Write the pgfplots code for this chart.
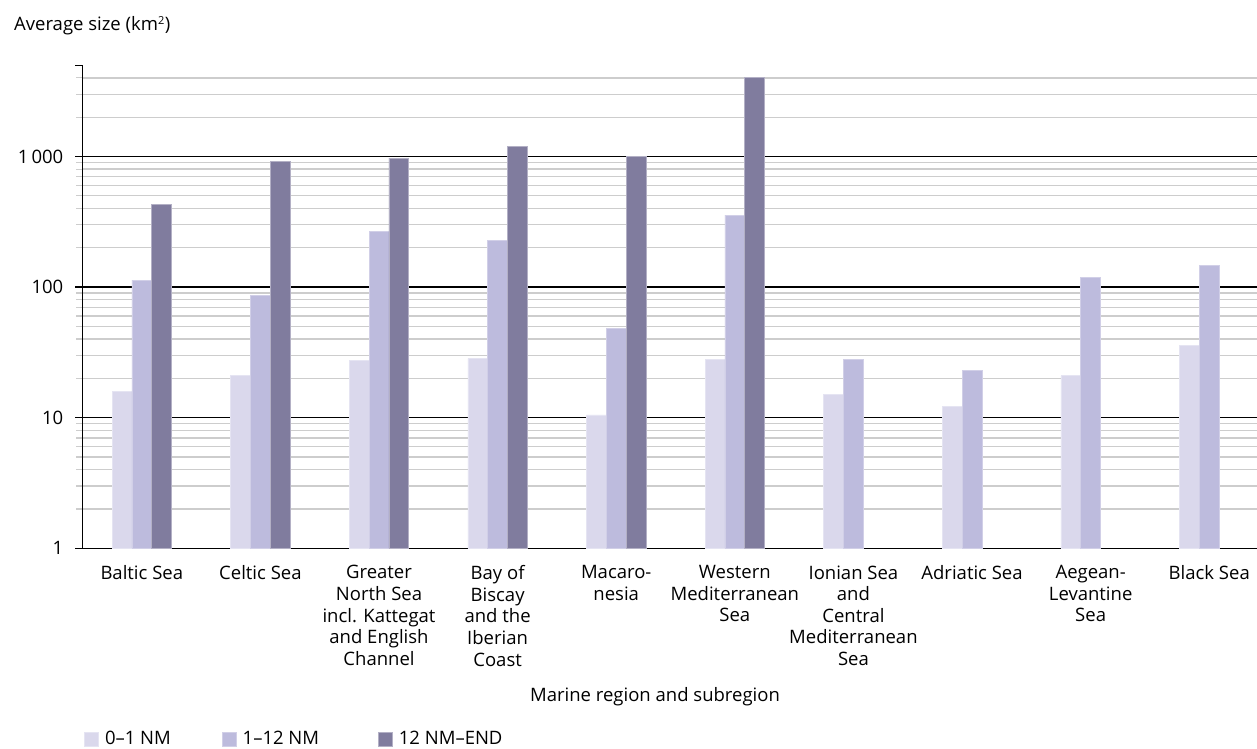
\documentclass[border=0pt]{standalone}
\usepackage{fontspec}
\setmainfont{Open Sans}
\usepackage{pgfplots}
\pgfplotsset{compat=1.18}
\definecolor{cA}{RGB}{218,216,236}
\definecolor{cB}{RGB}{189,187,221}
\definecolor{cC}{RGB}{128,124,158}
\definecolor{gridminor}{RGB}{205,205,205}
\newcommand{\lblfont}{\fontsize{18.5bp}{21.6bp}\selectfont}
\begin{document}
\lblfont
\begin{tikzpicture}
\path[use as bounding box] (0,0) rectangle (1257bp,-749bp);
\begin{axis}[
  at={(82.5bp,-548.3bp)}, anchor=south west,
  scale only axis, width=1186bp, height=483.1bp,
  ymode=log, ymin=1, ymax=5000,
  xmin=-0.5, xmax=9.5,
  ybar=0pt, bar width=19.8bp,
  axis x line*=bottom, axis y line*=left,
  axis line style={line width=1.3bp, black},
  xtick={0,...,9},
  xticklabels={Baltic Sea, Celtic Sea, Greater\\North Sea\\incl. Kattegat\\and English\\Channel, Bay of\\Biscay\\and the\\Iberian\\Coast, Macaro-\\nesia, Western\\Mediterranean\\Sea, Ionian Sea\\and\\Central\\Mediterranean\\Sea, Adriatic Sea, Aegean-\\Levantine\\Sea, Black Sea},
  x tick style={draw=none},
  xticklabel style={align=center, anchor=north, inner sep=0pt, yshift=-10bp, font=\lblfont},
  ytick={1,10,100,1000},
  yticklabels={1,10,100,1\,000},
  minor ytick={2,3,4,5,6,7,8,9,20,30,40,50,60,70,80,90,200,300,400,500,600,700,800,900,2000,3000,4000},
  extra y ticks={5000}, extra y tick labels={}, extra y tick style={grid=none},
  yticklabel style={anchor=east, inner sep=0pt, xshift=-12bp, font=\lblfont},
  tick align=outside,
  major tick length=7bp, minor tick length=6bp,
  y tick style={black, line width=1.2bp},
  minor y tick style={gridminor, line width=1.2bp},
  ymajorgrids, yminorgrids,
  major grid style={black, line width=1.3bp},
  minor grid style={gridminor, line width=1.3bp},
  legend columns=3,
  legend style={at={(axis description cs:0.0013,-0.3954)}, anchor=west, draw=none, fill=none, inner sep=0pt,
    font=\lblfont,
    /tikz/column 1/.style={column sep=4bp},
    /tikz/column 3/.style={column sep=4bp},
    /tikz/column 5/.style={column sep=4bp},
    /tikz/column 2/.style={column sep=49bp},
    /tikz/column 4/.style={column sep=57bp}},
  legend image code/.code={\fill[#1] (0bp,-7bp) rectangle (14bp,7bp);},
  clip=false,
]
\addplot[fill=cA, draw=cA!70!white, line width=0.8bp] coordinates {
 (0,15.8) (1,20.9) (2,27.3) (3,28.3) (4,10.5) (5,27.8) (6,15.0) (7,12.1) (8,20.9) (9,35.6)};
\addplot[fill=cB, draw=cB!70!white, line width=0.8bp] coordinates {
 (0,113) (1,85.8) (2,268) (3,229) (4,48) (5,355) (6,27.8) (7,22.9) (8,119) (9,147)};
\addplot[fill=cC, draw=cC!60!white, line width=0.8bp] coordinates {
 (0,431) (1,920) (2,970) (3,1193) (4,1000) (5,4000)};
\legend{0--1 NM, 1--12 NM, 12 NM--END}
\end{axis}
\node[anchor=base west, inner sep=0pt] at (14bp,-30.7bp) {Average size (km\textsuperscript{\fontsize{11bp}{12bp}\selectfont 2})};
\node[anchor=base, inner sep=0pt] at (655bp,-701bp) {Marine region and subregion};
\end{tikzpicture}
\end{document}
